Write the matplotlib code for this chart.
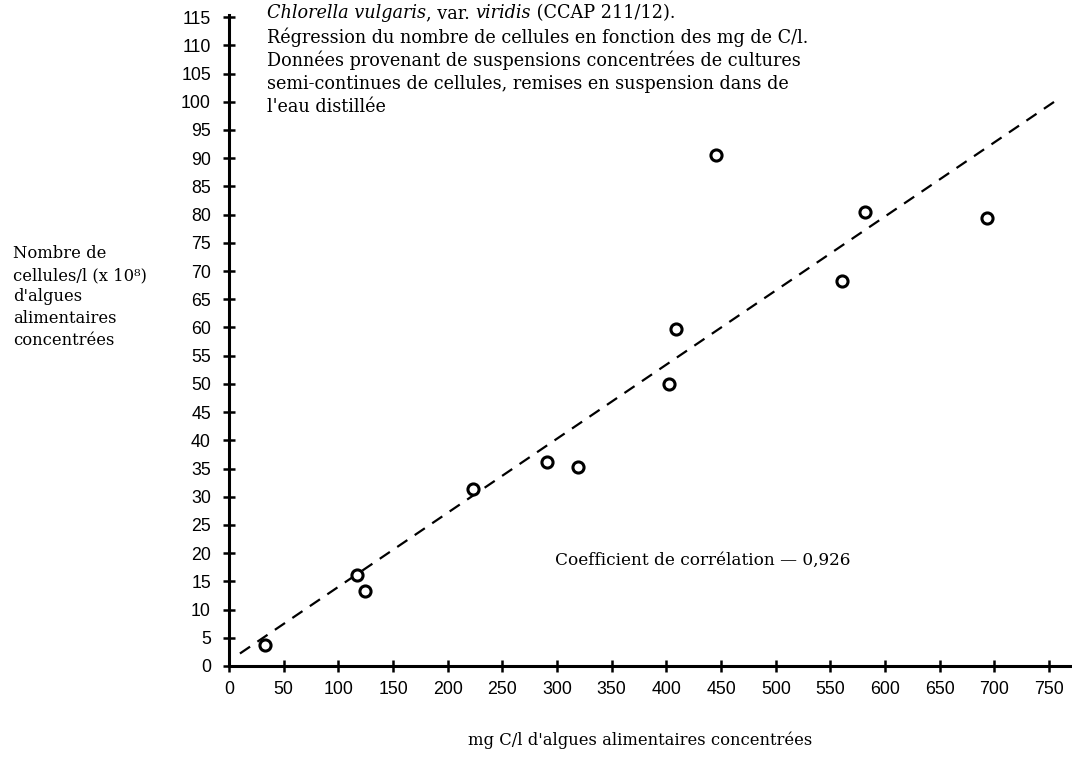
import matplotlib.pyplot as plt
import numpy as np

# Chlorella vulgaris: cells vs mg C/l
mg_carbon = [33, 117, 124, 223, 291, 319, 402, 409, 445, 561, 582, 693]
cells_1e8 = [3.7, 16.2, 13.3, 31.3, 36.2, 35.2, 50.0, 59.8, 90.6, 68.3, 80.5, 79.4]

# regression line (dashed), drawn between these x limits
reg_slope = 0.1313
reg_intercept = 0.9
reg_xrange = [10, 755]

x_ticks = list(range(0, 751, 50))
y_ticks = list(range(0, 116, 5))

title_parts = [("Chlorella vulgaris", 'italic'), (", var. ", 'normal'),
               ("viridis", 'italic'), (" (CCAP 211/12).", 'normal')]
title_lines = [
    "Régression du nombre de cellules en fonction des mg de C/l.",
    "Données provenant de suspensions concentrées de cultures",
    "semi-continues de cellules, remises en suspension dans de",
    "l'eau distillée",
]
ylabel_text = "Nombre de\ncellules/l (x 10⁸)\nd'algues\nalimentaires\nconcentrées"
xlabel_text = "mg C/l d'algues alimentaires concentrées"
coef_text = "Coefficient de corrélation — 0,926"

serif = ['DejaVu Serif']
W, H = 1072, 758

fig = plt.figure(figsize=(10.72, 7.58), dpi=100)
ax = fig.add_axes([229 / W, 92 / H, 842 / W, 650.6 / H])

xr = np.array(reg_xrange)
ax.plot(xr, reg_intercept + reg_slope * xr, color='black', lw=1.6,
        linestyle=(0, (5.5, 4)))
ax.plot(mg_carbon, cells_1e8, linestyle='none', marker='o', markersize=8,
        markerfacecolor='white', markeredgecolor='black', markeredgewidth=2.2)

ax.set_xlim(0, 770)
ax.set_ylim(0, 115.3)
ax.set_xticks(x_ticks)
ax.set_yticks(y_ticks)
for side in ['top', 'right']:
    ax.spines[side].set_visible(False)
for side in ['left', 'bottom']:
    ax.spines[side].set_linewidth(2.2)
ax.tick_params(direction='inout', length=8, width=1.8, labelsize=12.8)
ax.tick_params(axis='x', pad=7)
ax.tick_params(axis='y', pad=9)
for lbl in ax.get_xticklabels() + ax.get_yticklabels():
    lbl.set_family(['Liberation Sans', 'DejaVu Sans'])

# text block at top, first line mixes italic and upright
fig.canvas.draw()
renderer = fig.canvas.get_renderer()
x_px = 267
for txt, st in title_parts:
    t = fig.text(x_px / W, 1 - 13 / H, txt, style=st, family=serif,
                 fontsize=12.7, va='center')
    x_px = t.get_window_extent(renderer).x1
for i, line in enumerate(title_lines):
    fig.text(267 / W, 1 - (37 + 23.5 * i) / H, line, family=serif,
             fontsize=12.7, va='center')

fig.text(13 / W, 1 - 297 / H, ylabel_text, family=serif, fontsize=11.8,
         va='center', ha='left', linespacing=1.35)
fig.text(640 / W, 1 - 740 / H, xlabel_text, family=serif, fontsize=11.8,
         va='center', ha='center')
fig.text(555 / W, 1 - 560 / H, coef_text, family=serif, fontsize=12.2,
         va='center', ha='left')

fig.savefig('out.png', dpi=100)
